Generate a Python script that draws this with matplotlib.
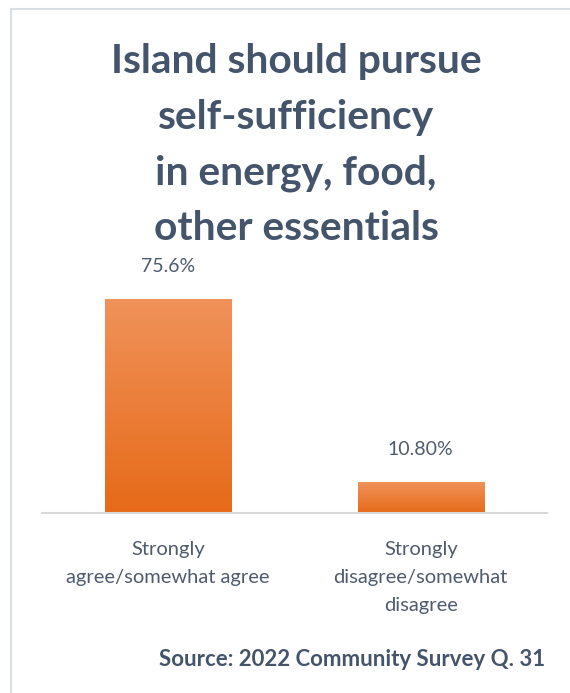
import numpy as np
import matplotlib.pyplot as plt
from matplotlib.colors import LinearSegmentedColormap
from matplotlib.patches import Rectangle

categories = ["Strongly\nagree/somewhat agree", "Strongly\ndisagree/somewhat\ndisagree"]
values = [75.6, 10.8]
value_labels = ["75.6%", "10.80%"]
title_text = "Island should pursue\nself-sufficiency\nin energy, food,\nother essentials"
source_text = "Source: 2022 Community Survey Q. 31"

slate = "#44546A"
label_col = "#4F5B6E"

plt.rcParams['font.family'] = ['Lato', 'DejaVu Sans']

fig = plt.figure(figsize=(5.7, 6.93), dpi=100)

# outer frame
fig.add_artist(plt.Line2D([11 / 570, 1.0], [1 - 9 / 693, 1 - 9 / 693], color="#D9DEE5", lw=1.5))
fig.add_artist(plt.Line2D([11 / 570, 11 / 570], [0, 1 - 9 / 693], color="#D9DEE5", lw=1.5))

ax = fig.add_axes([42 / 570, 180 / 693, 505 / 570, 255 / 693])

grad = LinearSegmentedColormap.from_list("og", ["#E66A18", "#F0925A"])
g = np.linspace(0, 1, 256).reshape(-1, 1)
width = 0.5
for i, v in enumerate(values):
    rect = Rectangle((i - width / 2, 0), width, v, facecolor="none", edgecolor="none")
    ax.add_patch(rect)
    im = ax.imshow(g, cmap=grad, origin="lower", aspect="auto",
                   extent=(i - width / 2, i + width / 2, 0, v), zorder=2)
    im.set_clip_path(rect)
    ax.text(i, v + 8.5, value_labels[i], ha="center", va="bottom",
            fontsize=14, color=label_col)

ax.set_xlim(-0.5, 1.5)
ax.set_ylim(0, 90)
for s in ["top", "right", "left"]:
    ax.spines[s].set_visible(False)
ax.spines["bottom"].set_color("#D9D9D9")
ax.spines["bottom"].set_linewidth(1.5)
ax.set_yticks([])
ax.set_xticks(range(len(categories)))
ax.set_xticklabels(categories, fontsize=14.5, color=label_col, linespacing=1.8)
ax.tick_params(axis="x", length=0, pad=20)

fig.text(296 / 570, 1 - 43 / 693, title_text, ha="center", va="top",
         fontsize=29.3, fontweight="bold", color=slate, linespacing=1.62)
fig.text(545 / 570, 1 - 660 / 693, source_text, ha="right", va="center",
         fontsize=16, fontweight="bold", color=slate)

fig.savefig("out.png", dpi=100)
